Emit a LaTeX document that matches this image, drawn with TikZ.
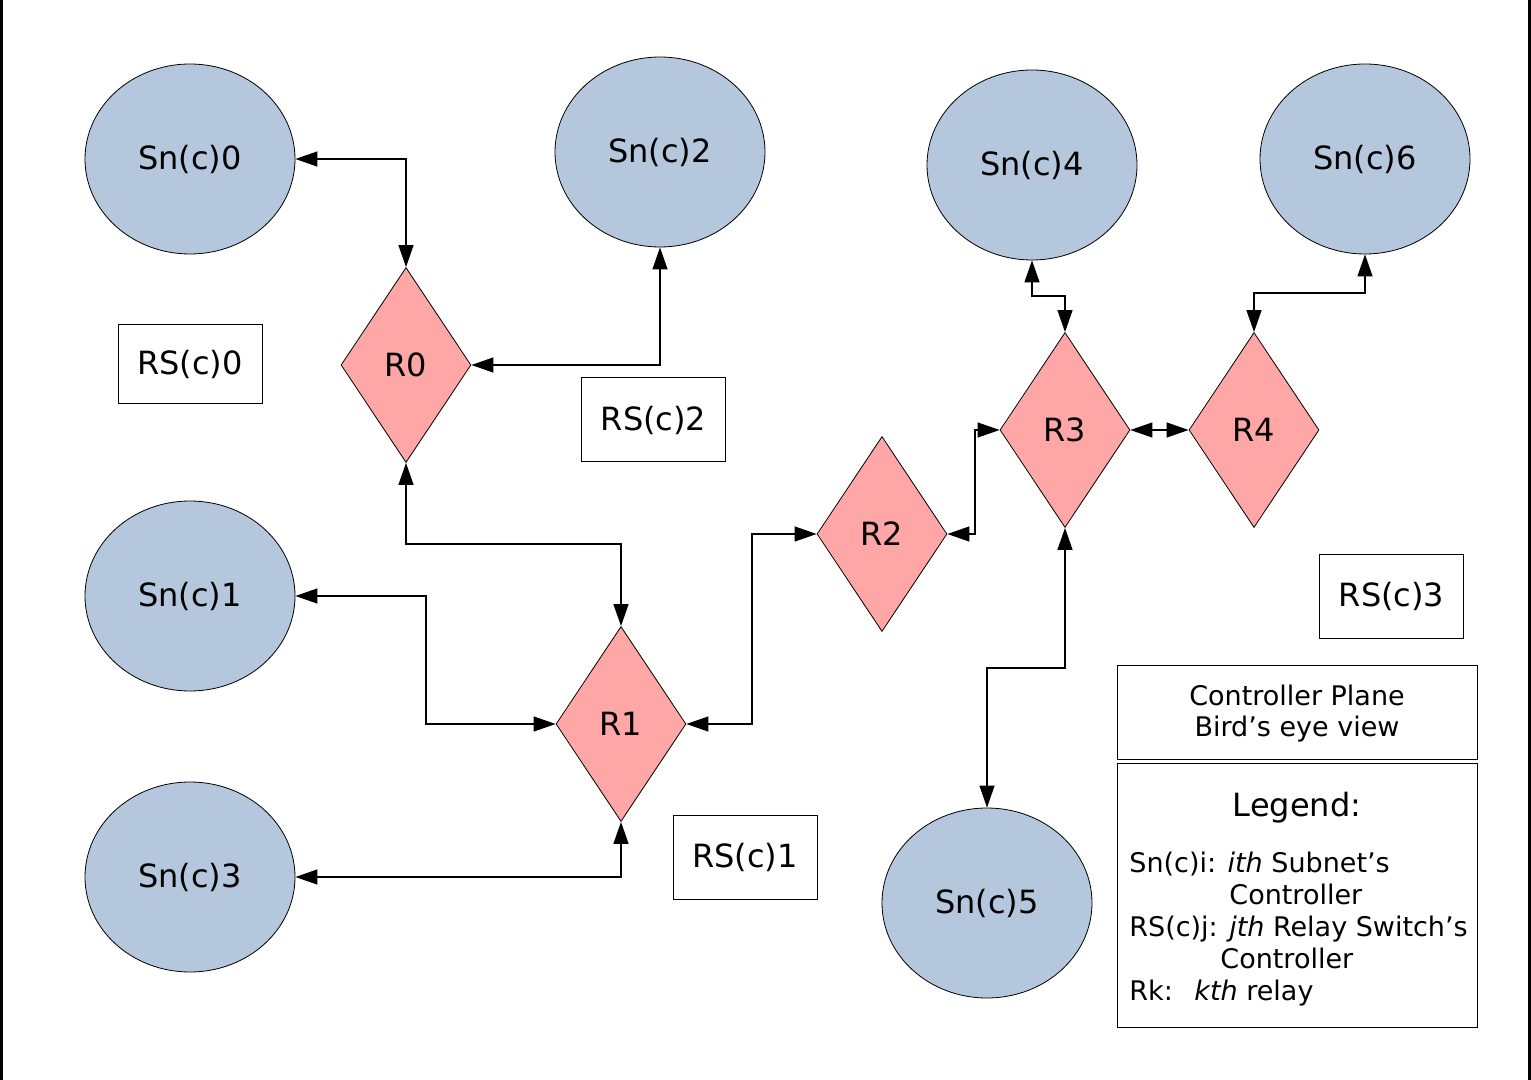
\documentclass[tikz,border=0pt]{standalone}
\usepackage{fontspec}
\setmainfont{DejaVu Sans}
\usetikzlibrary{
	arrows.meta,
	shapes.geometric,
	positioning
}
\definecolor{snblue}{HTML}{B4C7DC}
\definecolor{relaypink}{HTML}{FFA6A6}

\begin{document}
\begin{tikzpicture}[
			x=0.5pt,
			y=-0.5pt,
			subnet/.style={
				ellipse,
				draw,
				fill=snblue,
				line width=0.4pt,
				minimum width=105pt,
				minimum height=95pt,
				font=\fontsize{16pt}{19pt}\selectfont
			},
			relay/.style={
				diamond,
				draw,
				fill=relaypink,
				line width=0.4pt,
				inner sep=0pt,
				minimum width=65pt,
				minimum height=97.5pt,
				font=\fontsize{16pt}{19pt}\selectfont
			},
			rsbox/.style={
				rectangle,
				draw,
				line width=0.5pt,
				minimum width=72pt,
				minimum height=42pt,
				font=\fontsize{16pt}{19pt}\selectfont
			},
			infobox/.style={
				rectangle,
				draw,
				line width=0.5pt,
				minimum width=180pt
			},
			legtext/.style={
				inner sep=0pt,
				align=left,
				font=\fontsize{13.5pt}{15.9pt}\selectfont
			},
			arr/.style={
				{Triangle[length=11pt,width=7.5pt]}-{Triangle[length=11pt,width=7.5pt]},
				line width=0.6pt
			}
			]
			
			\useasboundingbox (0,0) rectangle (1531,1080);
			\draw[line width=1.5pt] (1.5,0) -- (1.5,1080);
			\draw[line width=1.5pt] (1529.5,0) -- (1529.5,1080);
			
			% subnet controllers
			\node[subnet] (sn0) at (190,159) {Sn(c)0};
			\node[subnet] (sn2) at (660,152) {Sn(c)2};
			\node[subnet] (sn4) at (1032,165) {Sn(c)4};
			\node[subnet] (sn6) at (1365,159) {Sn(c)6};
			\node[subnet] (sn1) at (190,596) {Sn(c)1};
			\node[subnet] (sn3) at (190,877) {Sn(c)3};
			\node[subnet] (sn5) at (987,903) {Sn(c)5};
			
			% relays
			\node[relay] (r0) at (406,365) {R0};
			\node[relay] (r1) at (621,724) {R1};
			\node[relay] (r2) at (882,534) {R2};
			\node[relay] (r3) at (1065,430) {R3};
			\node[relay] (r4) at (1254,430) {R4};
			
			% relay switch controllers
			\node[rsbox, minimum height=39.5pt] (rs0) at (190,364.5) {RS(c)0};
			\node[rsbox] (rs2) at (653.5,420) {RS(c)2};
			\node[rsbox] (rs1) at (745,857.5) {RS(c)1};
			\node[rsbox] (rs3) at (1391.5,596) {RS(c)3};
			
			% title and legend
			\node[infobox, minimum height=47pt] (title) at (1297,712) {};
			\node[align=center, font=\fontsize{13.5pt}{15.5pt}\selectfont]
				(titletext) at (1297,714) {Controller Plane\\Bird’s eye view};
			\node[infobox, minimum height=132pt] (legend) at (1297,895) {};
			\node[font=\fontsize{16pt}{19pt}\selectfont] (legtitle) at (1297,808) {Legend:};
			\node[legtext, anchor=north west] (legitems) at (1129,852) {
				Sn(c)i: \textit{ith} Subnet’s\\
				\hspace*{50pt}Controller\\
				RS(c)j: \textit{jth} Relay Switch’s\\
				\hspace*{45.5pt}Controller\\
				\makebox[32.5pt][l]{Rk:}\textit{kth} relay
			};
			
			% bend points
			\coordinate (b1) at (500,544);
			\coordinate (b2) at (426,660);
			\coordinate (b3) at (752,620);
			\coordinate (b4) at (975,480);
			\coordinate (b5) at (1050,296);
			\coordinate (b6) at (1300,293);
			\coordinate (b7) at (1020,668);
			
			\draw[arr] (sn0.east) -| (r0.north);
			\draw[arr] (r0.east) -| (sn2.south);
			\draw[arr] (r0.south) |- (b1) -| (r1.north);
			\draw[arr] (sn1.east) -| (b2) |- (r1.west);
			\draw[arr] (sn3.east) -| (r1.south);
			\draw[arr] (r1.east) -| (b3) |- (r2.west);
			\draw[arr] (r2.east) -| (b4) |- (r3.west);
			\draw[arr] (r3.east) -- (r4.west);
			\draw[arr] (sn4.south) |- (b5) -| (r3.north);
			\draw[arr] (r4.north) |- (b6) -| (sn6.south);
			\draw[arr] (r3.south) |- (b7) -| (sn5.north);
			
		\end{tikzpicture}
\end{document}
